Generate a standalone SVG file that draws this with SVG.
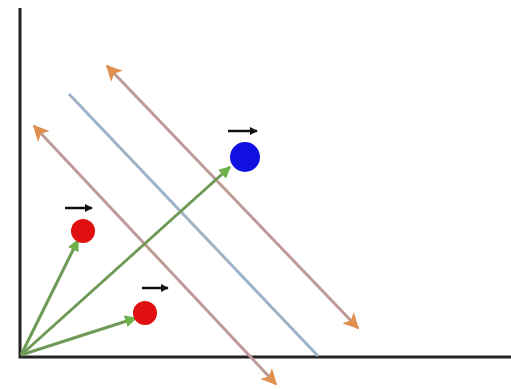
<svg xmlns="http://www.w3.org/2000/svg" width="511" height="389" viewBox="0 0 511 389">
<defs>
<marker id="oa" viewBox="0 0 10 10" refX="9" refY="5" markerWidth="16" markerHeight="16" orient="auto-start-reverse" markerUnits="userSpaceOnUse">
<path d="M0,0 L10,5 L0,10 L2.5,5 Z" fill="#e0904e"/>
</marker>
<marker id="ga" viewBox="0 0 10 10" refX="9" refY="5" markerWidth="12" markerHeight="12" orient="auto" markerUnits="userSpaceOnUse">
<path d="M0,0 L10,5 L0,10 Z" fill="#6db24a"/>
</marker>
<marker id="ka" viewBox="0 0 10 10" refX="9" refY="5" markerWidth="8" markerHeight="8" orient="auto" markerUnits="userSpaceOnUse">
<path d="M0,0 L10,5 L0,10 Z" fill="#111"/>
</marker>
<style>
.ax{stroke:#222;stroke-width:3;fill:none}
.oline{stroke:#bf9a98;stroke-width:3;fill:none}
.bline{stroke:#9fb2c6;stroke-width:3;fill:none}
.gline{stroke:#6f9a55;stroke-width:3;fill:none}
.vec{stroke:#111;stroke-width:2.5;fill:none}
</style>
</defs>
<rect width="511" height="389" fill="#fff"/>
<g id="axes">
<path class="ax" d="M20,8 L20,357 L511,357"/>
</g>
<g id="connectors">
<path class="oline" d="M34,126 L276,384" marker-start="url(#oa)" marker-end="url(#oa)"/>
<path class="oline" d="M107,66 L358,328" marker-start="url(#oa)" marker-end="url(#oa)"/>
<path class="bline" d="M69,94 L318,356"/>
<path class="gline" d="M21,355 L78,240" marker-end="url(#ga)"/>
<path class="gline" d="M21,355 L136,318" marker-end="url(#ga)"/>
<path class="gline" d="M21,355 L230,167" marker-end="url(#ga)"/>
</g>
<g id="point-a">
<circle cx="83" cy="231" r="12" fill="#e01010"/>
<path class="vec" d="M65,208 L92,208" marker-end="url(#ka)"/>
</g>
<g id="point-b">
<circle cx="145" cy="313" r="12" fill="#e01010"/>
<path class="vec" d="M142,288 L168,288" marker-end="url(#ka)"/>
</g>
<g id="point-c">
<circle cx="245" cy="157" r="15" fill="#1010e0"/>
<path class="vec" d="M228,131 L257,131" marker-end="url(#ka)"/>
</g>
</svg>
